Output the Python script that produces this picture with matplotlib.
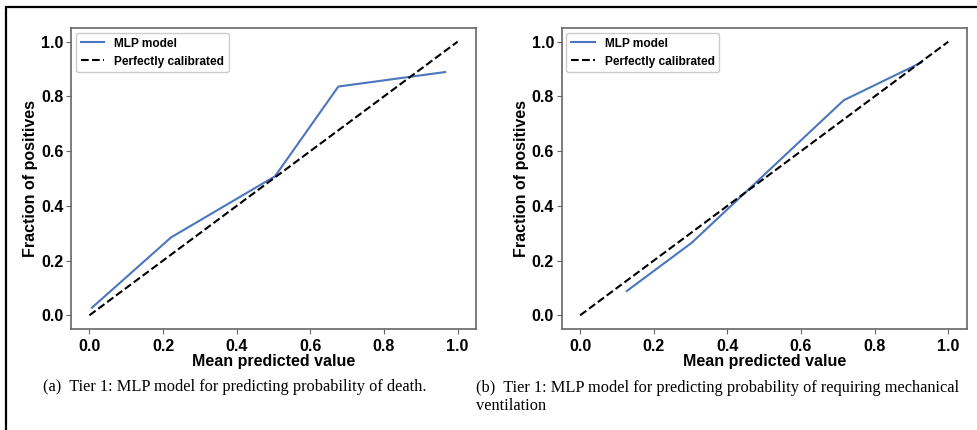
import matplotlib
matplotlib.use("Agg")
import matplotlib.pyplot as plt
from matplotlib.patches import Rectangle

# calibration curves
death_pred = [0.007, 0.222, 0.504, 0.676, 0.966]
death_frac = [0.028, 0.285, 0.508, 0.836, 0.889]

vent_pred = [0.127, 0.303, 0.716, 0.927]
vent_frac = [0.089, 0.265, 0.786, 0.924]

diag = [0, 1]
ticks = [0.0, 0.2, 0.4, 0.6, 0.8, 1.0]

captions = [
    "(a)  Tier 1: MLP model for predicting probability of death.",
    "(b)  Tier 1: MLP model for predicting probability of requiring mechanical\nventilation",
]

plt.rcParams["font.family"] = ["Liberation Sans", "DejaVu Sans"]
plt.rcParams["font.weight"] = "bold"

fig = plt.figure(figsize=(9.77, 4.30), dpi=100)
ax1 = fig.add_axes([71 / 977, 1 - 329 / 430, 405 / 977, 301 / 430])
ax2 = fig.add_axes([561.7 / 977, 1 - 329 / 430, 405 / 977, 301 / 430])

spine_col = "#666666"
for ax, xs, ys in [(ax1, death_pred, death_frac), (ax2, vent_pred, vent_frac)]:
    ax.plot(xs, ys, color="#4a76bd", lw=1.5, label="MLP model")
    ax.plot(diag, diag, "k--", lw=1.5, label="Perfectly calibrated")
    ax.set_xlim(-0.05, 1.05)
    ax.set_ylim(-0.05, 1.05)
    ax.set_xticks(ticks)
    ax.set_yticks(ticks)
    ax.tick_params(labelsize=11.5, length=3.5, width=0.8, color=spine_col)
    ax.tick_params(axis="x", pad=4)
    ax.tick_params(axis="y", pad=2)
    for lab in ax.get_xticklabels() + ax.get_yticklabels():
        lab.set_fontweight("bold")
    for s in ax.spines.values():
        s.set_color(spine_col)
        s.set_linewidth(1.2)
    ax.set_xlabel("Mean predicted value", fontsize=11.5, fontweight="bold", labelpad=0)
    ax.set_ylabel("Fraction of positives", fontsize=11.5, fontweight="bold", labelpad=2)
    leg = ax.legend(loc="upper left", fontsize=8.6, borderaxespad=0.4,
                    handlelength=2.0, framealpha=1)
    leg.get_frame().set_edgecolor("#cccccc")

# sub-figure captions in serif
fig.text(43 / 977, 1 - 387 / 430, captions[0], family="Liberation Serif",
         fontweight="normal", fontsize=11.8, va="center", ha="left")
fig.text(476 / 977, 1 - 397 / 430, captions[1], family="Liberation Serif",
         fontweight="normal", fontsize=11.8, va="center", ha="left",
         linespacing=1.2)

# outer frame (cut off at right and bottom)
fig.patches.append(Rectangle((6 / 977, -0.1), 1.2, 1.1 - 7 / 430,
                             transform=fig.transFigure, fill=False,
                             edgecolor="black", lw=1.6, clip_on=False))

fig.savefig("out.png", dpi=100)
